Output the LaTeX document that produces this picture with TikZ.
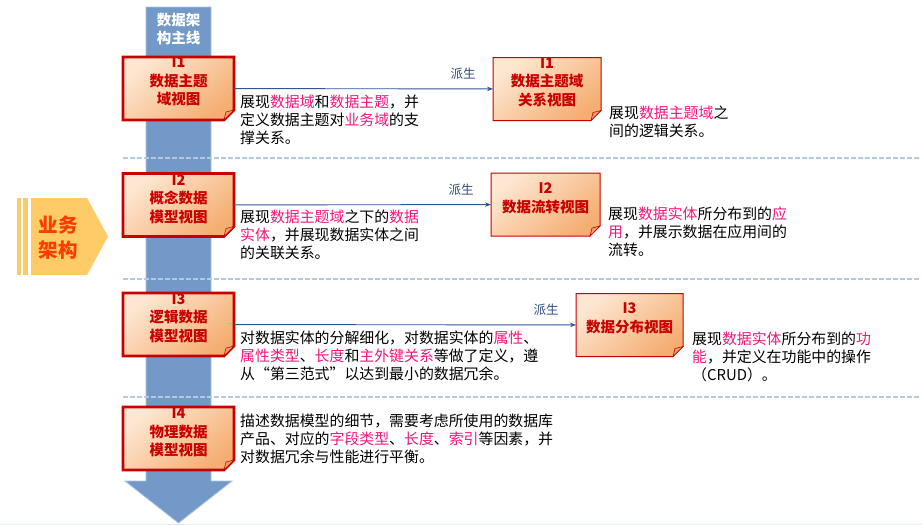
\documentclass[tikz,border=0pt]{standalone}
\usepackage{fontspec}
\setmainfont{Noto Sans CJK SC}
\usepackage{xcolor}
\definecolor{colSpine}{HTML}{7299C8}
\definecolor{colSpineEdge}{HTML}{A9C1DF}
\definecolor{colBoxLight}{HTML}{FDE7D2}
\definecolor{colBoxDark}{HTML}{F5AE72}
\definecolor{colFold}{HTML}{EE9E68}
\definecolor{colBoxLine}{HTML}{C80000}
\definecolor{colTitle}{HTML}{C80000}
\definecolor{colMark}{HTML}{F2167C}
\definecolor{colLink}{HTML}{2F5597}
\definecolor{colLinkText}{HTML}{2C4A7C}
\definecolor{colSep}{HTML}{B4C8E0}
\definecolor{colTab}{HTML}{FFCB66}
\definecolor{colTabText}{HTML}{FF3C00}
\usepackage{tikz}
\usetikzlibrary{arrows.meta, positioning, calc}

% pink key words
\newcommand{\mk}[1]{\textcolor{colMark}{#1}}
% paper box with folded corner, drawn from a named node
\newcommand{\paperbox}[3]{%
  \shadedraw[top color=colBoxLight, bottom color=colBoxDark, shading angle=40,
    draw=colBoxLine, line width=#2, line join=miter]
    (#1.north west) -- (#1.north east) -- ([yshift=#3]#1.south east)
    -- ([xshift=-#3]#1.south east) -- (#1.south west) -- cycle;
  \filldraw[fill=colFold, draw=colBoxLine, line width=0.6pt]
    ([yshift=#3]#1.south east) -- ([xshift=-#3]#1.south east)
    -- ([xshift=-0.8*#3, yshift=0.8*#3]#1.south east) -- cycle;
}

\begin{document}
\begin{tikzpicture}[x=1pt, y=-1pt,
    box/.style={draw=none, inner sep=0, outer sep=0, minimum height=63pt},
    lbox/.style={box, minimum width=111pt},
    rbox/.style={box, minimum width=108pt},
    boxtitle/.style={text=colTitle, font=\fontsize{14.5pt}{18.5pt}\selectfont\bfseries, align=center, inner sep=0},
    desc/.style={font=\fontsize{14.9pt}{17.8pt}\selectfont, align=left, anchor=base west, inner sep=0},
    link/.style={colLink, line width=0.9pt, -{Stealth[length=6pt, width=4.5pt]}},
    linklabel/.style={text=colLinkText, font=\fontsize{12.5pt}{14pt}\selectfont, inner sep=0, anchor=south east, xshift=-17pt, yshift=9pt},
    sepline/.style={colSep, line width=1.1pt, dash pattern=on 4.5pt off 2.5pt}]
  \useasboundingbox (0,0) rectangle (922,525);

  % main spine arrow
  \filldraw[fill=colSpine, draw=colSpineEdge, line width=0.8pt]
    (146,7) -- (211,7) -- (211,481) -- (232,481) -- (178.5,523) -- (125,481) -- (146,481) -- cycle;
  \node[text=white, font=\fontsize{14.5pt}{18pt}\selectfont\bfseries, align=center] (spine) at (178.5,29) {数据架\\构主线};

  % row separators
  \draw[sepline] (123,158) -- (920,158);
  \draw[sepline] (123,279) -- (920,279);
  \draw[sepline] (123,397) -- (920,397);
  \draw[colSep!40, line width=0.8pt] (0,524) -- (922,524);

  % business tab
  \fill[colTab] (17,198) rectangle (21,275);
  \fill[colTab] (23,198) rectangle (28,275);
  \fill[colTab] (31,198) -- (87,198) -- (108,236.5) -- (87,275) -- (31,275) -- cycle;
  \node[text=colTabText, font=\fontsize{19.5pt}{25pt}\selectfont\bfseries, align=center] (tab) at (58,237.5) {业务\\架构};

  % boxes
  \node[lbox] (l1) at (178.5,88.5) {};
  \node[lbox] (l2) at (178.5,205) {};
  \node[lbox] (l3) at (178.5,324.5) {};
  \node[lbox] (l4) at (178.5,438.5) {};
  \node[rbox] (r1) at (547,89) {};
  \node[rbox, minimum width=109pt] (r2) at (545.5,204.5) {};
  \node[rbox, minimum width=107pt] (r3) at (629.5,325) {};
  \paperbox{l1}{2.6pt}{10pt}
  \paperbox{l2}{2.6pt}{10pt}
  \paperbox{l3}{2.6pt}{10pt}
  \paperbox{l4}{2.6pt}{10pt}
  \paperbox{r1}{1pt}{10pt}
  \paperbox{r2}{1pt}{10pt}
  \paperbox{r3}{1pt}{10pt}

  \node[boxtitle] (l1t) at ([yshift=7pt]l1.center) {I1\\数据主题\\域视图};
  \node[boxtitle] (l2t) at ([yshift=6pt]l2.center) {I2\\概念数据\\模型视图};
  \node[boxtitle] (l3t) at ([yshift=6.5pt]l3.center) {I3\\逻辑数据\\模型视图};
  \node[boxtitle] (l4t) at ([yshift=6pt]l4.center) {I4\\物理数据\\模型视图};
  \node[boxtitle] (r1t) at ([yshift=7pt]r1.center) {I1\\数据主题域\\关系视图};
  \node[boxtitle, font=\fontsize{14.5pt}{19pt}\selectfont\bfseries] (r2t) at ([yshift=6pt]r2.center) {I2\\数据流转视图};
  \node[boxtitle, font=\fontsize{14.5pt}{19pt}\selectfont\bfseries] (r3t) at ([yshift=6.5pt]r3.center) {I3\\数据分布视图};

  % derivation links
  \draw[link] (l1) -- (r1) node[linklabel, at end] (d1) {派生};
  \draw[link] (l2) -- (r2) node[linklabel, at end] (d2) {派生};
  \draw[link] (l3) -- (r3) node[linklabel, at end] (d3) {派生};

  % descriptions (placed at the baseline of the last line)
  \node[desc] (t1) at (240,143.1) {展现\mk{数据域}和\mk{数据主题}，并\\定义数据主题对\mk{业务域}的支\\撑关系。};
  \node[desc] (u1) at (609,136.3) {展现\mk{数据主题域}之\\间的逻辑关系。};
  \node[desc] (t2) at (240,258.1) {展现\mk{数据主题域}之下的\mk{数据}\\\mk{实体}，并展现数据实体之间\\的关联关系。};
  \node[desc] (u2) at (608,255.1) {展现\mk{数据实体}所分布到的\mk{应}\\\mk{用}，并展示数据在应用间的\\流转。};
  \node[desc] (t3) at (240,379.1) {对数据实体的分解细化，对数据实体的\mk{属性}、\\\mk{属性类型}、\mk{长度}和\mk{主外键关系}等做了定义，遵\\从“第三范式”以达到最小的数据冗余。};
  \node[desc] (u3) at (692,380.1) {展现\mk{数据实体}所分布到的\mk{功}\\\mk{能}，并定义在功能中的操作\\（CRUD）。};
  \node[desc] (t4) at (240,462.1) {描述数据模型的细节，需要考虑所使用的数据库\\产品、对应的\mk{字段类型}、\mk{长度}、\mk{索引}等因素，并\\对数据冗余与性能进行平衡。};
\end{tikzpicture}
\end{document}
